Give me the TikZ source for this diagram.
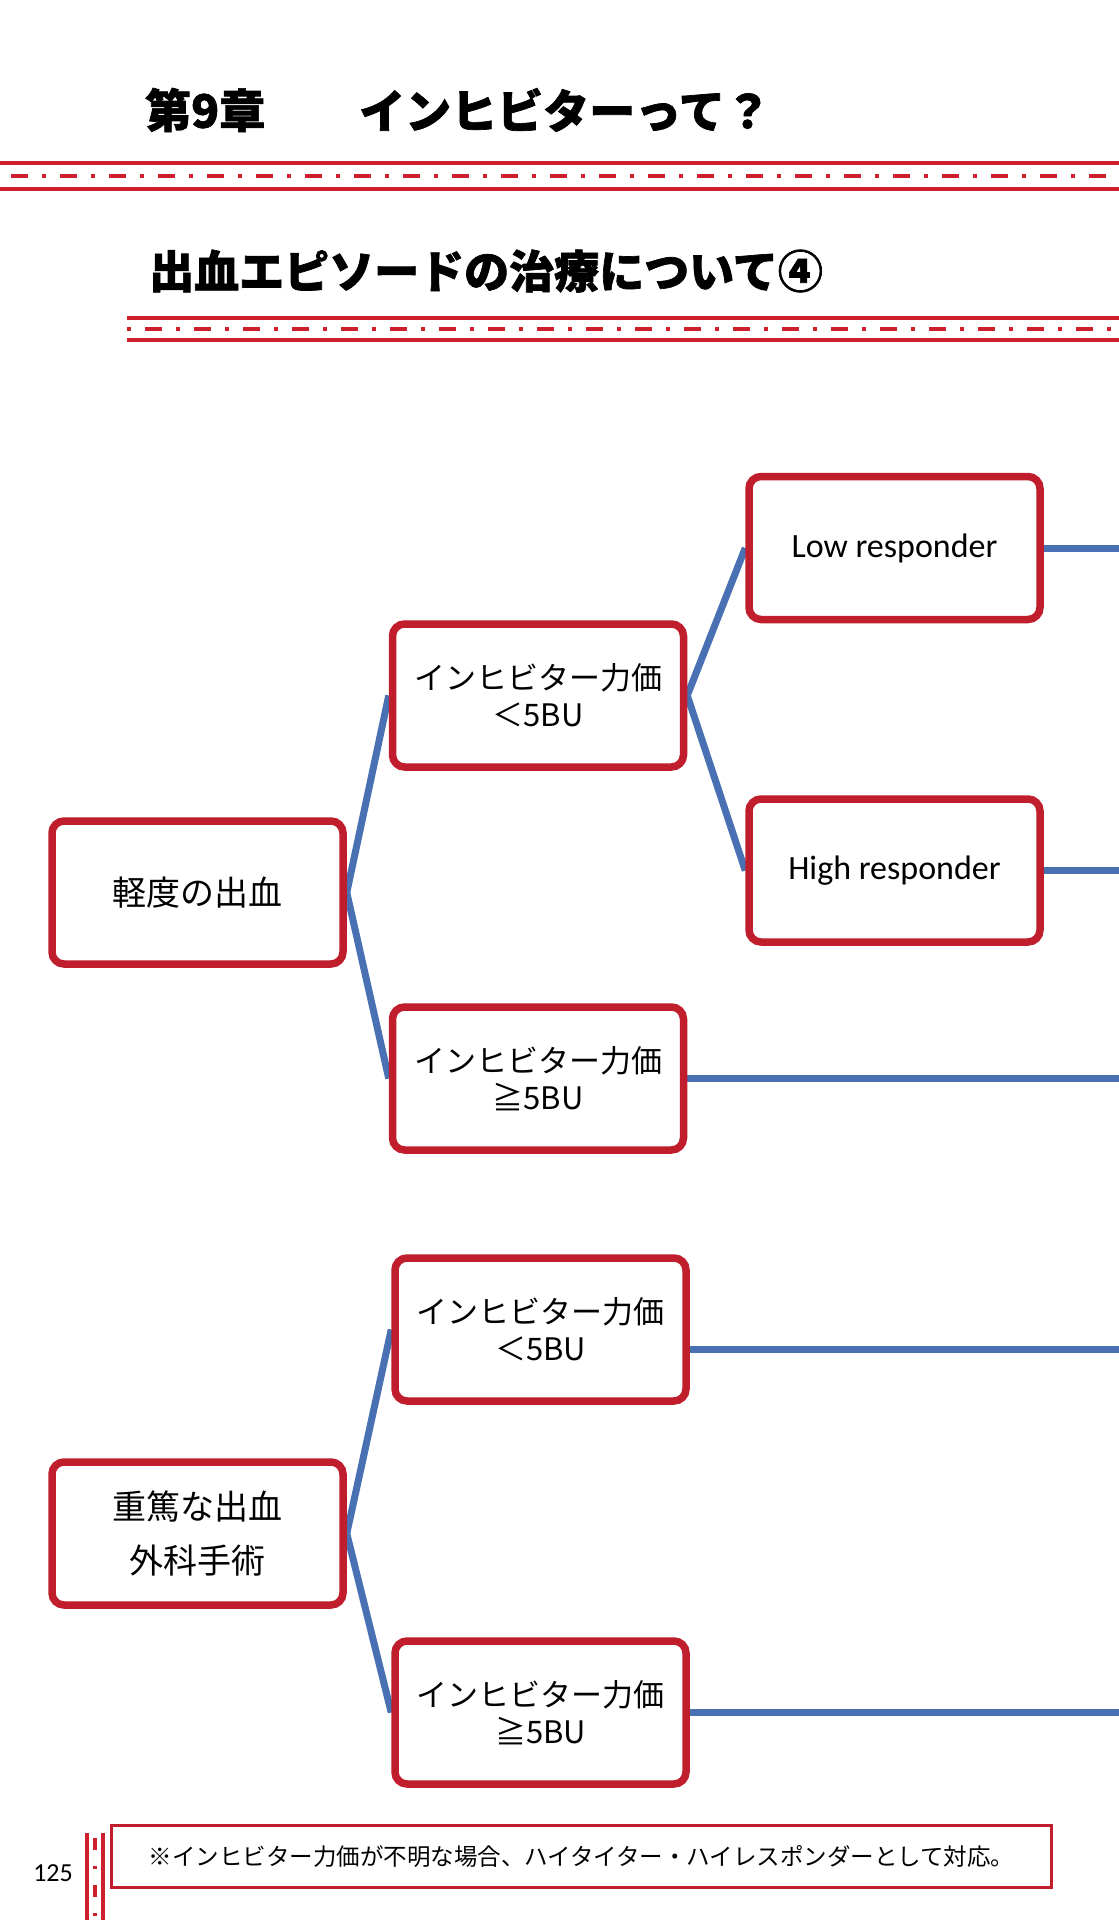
\documentclass[tikz,border=0pt]{standalone}
\usepackage{fontspec}
\usetikzlibrary{backgrounds}
\setmainfont{Noto Sans CJK JP}
\newfontfamily\latinfont{Carlito}
\newfontfamily\headfont[FakeBold=1.5]{Noto Sans CJK JP}
\definecolor{Scarlet}{RGB}{192,30,44}
\definecolor{Signal}{RGB}{205,32,44}
\definecolor{Steel}{RGB}{72,112,178}

\begin{document}
\begin{tikzpicture}[x=1pt,y=-1pt,
    stage/.style={rectangle,rounded corners=12pt,draw=Scarlet,line width=7.5pt,fill=white,minimum width=291pt,minimum height=143pt,align=center,inner sep=0pt,font=\fontsize{31}{37}\selectfont},
    cause/.style={stage,font=\fontsize{34}{54}\selectfont},
    resp/.style={stage,font=\latinfont\fontsize{34}{40}\selectfont},
    heading/.style={anchor=west,inner sep=0pt,font=\headfont\bfseries\fontsize{46}{50}\selectfont},
    link/.style={draw=Steel,line width=7pt},
    rule/.style={draw=Signal,line width=4pt},
    dashrule/.style={draw=Signal,line width=4pt,dash pattern=on 17pt off 14pt on 4pt off 14pt},
    siderule/.style={draw=Signal,line width=3.3pt}
]

\useasboundingbox (0,0) rectangle (1119,1920);

% Chapter heading
\node[heading] (chap) at (145,110) {第9章};
\node[heading] (chaptitle) at (359,110) {インヒビターって？};

\draw[rule] (0,163) -- (1119,163);
\draw[dashrule] (11,176) -- (1119,176);
\draw[rule] (0,189) -- (1119,189);

% Section heading
\node[heading,font=\headfont\bfseries\fontsize{45}{50}\selectfont] (section) at (149,271) {出血エピソードの治療について④};

\draw[rule] (127,318) -- (1119,318);
\draw[dashrule,dash phase=31pt] (127,329) -- (1119,329);
\draw[rule] (127,340) -- (1119,340);

% Mild bleeding
\node[cause] (mild) at (197.5,892.5) {軽度の出血};
\node[stage] (mildlow) at (538,695.5) {インヒビター力価\\＜5BU};
\node[stage] (mildhigh) at (538,1078.5) {インヒビター力価\\≧5BU};
\node[resp] (lowresp) at (894.5,548) {Low responder};
\node[resp] (highresp) at (894.5,870.5) {High responder};

% Severe bleeding / surgery
\node[cause] (severe) at (197.5,1533.5) {重篤な出血\\外科手術};
\node[stage] (sevlow) at (540.5,1329.5) {インヒビター力価\\＜5BU};
\node[stage] (sevhigh) at (540.5,1712.5) {インヒビター力価\\≧5BU};

% Links (behind the boxes)
\coordinate (rim) at (1119,0);
\coordinate (sevlowexit) at (1119,1349);
\begin{scope}[on background layer]
\fill[white] (0,0) rectangle (1119,1920);
\draw[link] (mild.east) -- (mildlow.west);
\draw[link] (mild.east) -- (mildhigh.west);
\draw[link] (mildlow.east) -- (lowresp.west);
\draw[link] (mildlow.east) -- (highresp.west);
\draw[link] (lowresp.east) -- (lowresp.east -| rim);
\draw[link] (highresp.east) -- (highresp.east -| rim);
\draw[link] (mildhigh.east) -- (mildhigh.east -| rim);
\draw[link] (severe.east) -- (sevlow.west);
\draw[link] (severe.east) -- (sevhigh.west);
\draw[link] (sevlow.east |- sevlowexit) -- (sevlowexit);
\draw[link] (sevhigh.east) -- (sevhigh.east -| rim);
\end{scope}

% Footer
\node[anchor=east,inner sep=0pt,font=\latinfont\fontsize{26}{30}\selectfont] (pagenum) at (73,1873) {125};
\draw[siderule] (87,1833) -- (87,1920);
\draw[siderule,dash pattern=on 12pt off 16pt on 3pt off 16pt] (95,1838) -- (95,1920);
\draw[siderule] (103,1833) -- (103,1920);
\node[draw=Scarlet,line width=3pt,minimum width=940pt,minimum height=62pt,inner sep=0pt,font=\fontsize{23.5}{28}\selectfont] (note) at (581.5,1856.5) {※インヒビター力価が不明な場合、ハイタイター・ハイレスポンダーとして対応。};

\end{tikzpicture}
\end{document}
